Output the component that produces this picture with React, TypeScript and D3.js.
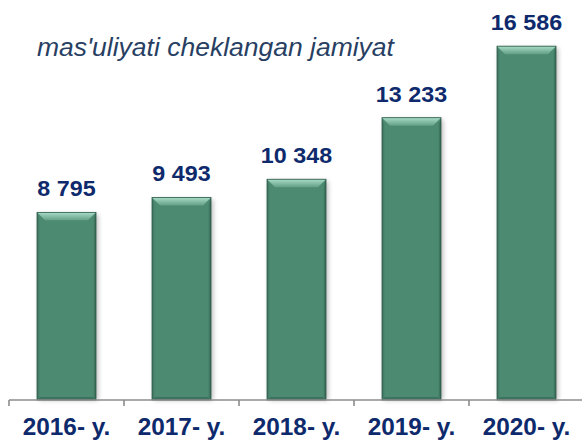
import React from "react";
import * as d3 from "d3";

const years = ["2016- y.", "2017- y.", "2018- y.", "2019- y.", "2020- y."];
const values = [8795, 9493, 10348, 13233, 16586];
const title = "mas'uliyati cheklangan jamiyat";

const W = 582;
const H = 441;
const margin = { left: 9, right: -2, top: 16, bottom: 41 };
const font = "'Liberation Sans', Arial, sans-serif";
const sx = 1.06; // the source text is a little wider than Arial

const fmt = (v: number) => d3.format(",")(v).replace(/,/g, " ");

// text stretched horizontally around its anchor point
const Label = ({ x, y, size, anchor = "middle", italic = false, bold = true, fill, children }: any) => (
  <g transform={`translate(${x},${y}) scale(${sx},1)`}>
    <text
      textAnchor={anchor}
      fontFamily={font}
      fontWeight={bold ? "bold" : "normal"}
      fontStyle={italic ? "italic" : "normal"}
      fontSize={size}
      fill={fill}
    >
      {children}
    </text>
  </g>
);

const App = () => {
  const x = d3
    .scaleBand<string>()
    .domain(years)
    .range([margin.left, W - margin.right])
    .paddingInner(0.487)
    .paddingOuter(0.2435);

  const y = d3
    .scaleLinear()
    .domain([0, 18000])
    .range([H - margin.bottom, margin.top]);

  const base = y(0);
  const step = x.step();
  const tickXs = d3.range(years.length + 1).map((i) => margin.left + i * step);

  const tb = 8; // top bevel
  const sb = 3; // side bevel

  return (
    <svg
      width={W}
      height={H}
      style={{ position: "absolute", left: 0, top: 0, background: "#fff" }}
    >
      <defs>
        <linearGradient id="topBevel" x1="0" y1="0" x2="0" y2="1">
          <stop offset="0%" stopColor="#a9dcc6" />
          <stop offset="100%" stopColor="#639f87" />
        </linearGradient>
        <linearGradient id="leftBevel" x1="0" y1="0" x2="1" y2="0">
          <stop offset="0%" stopColor="#3a6f5b" />
          <stop offset="100%" stopColor="#4d8a72" />
        </linearGradient>
        <linearGradient id="rightBevel" x1="1" y1="0" x2="0" y2="0">
          <stop offset="0%" stopColor="#33644f" />
          <stop offset="100%" stopColor="#4d8a72" />
        </linearGradient>
        <filter id="shadow" x="-20%" y="-10%" width="140%" height="120%">
          <feGaussianBlur stdDeviation="2.5" />
        </filter>
      </defs>

      <Label x={37} y={56} size={25} anchor="start" italic bold={false} fill="#283f63">
        {title}
      </Label>

      {years.map((yr, i) => {
        const x0 = x(yr) as number;
        const x1 = x0 + x.bandwidth();
        const y0 = y(values[i]);
        const y1 = base;
        const cx = x0 + x.bandwidth() / 2;
        return (
          <g key={yr}>
            <rect
              x={x0 + 2}
              y={y0 + 2}
              width={x.bandwidth()}
              height={y1 - y0 - 2}
              fill="#000"
              opacity={0.28}
              filter="url(#shadow)"
            />
            <rect x={x0} y={y0} width={x.bandwidth()} height={y1 - y0} fill="#4d8a72" />
            <polygon
              points={`${x0},${y0} ${x0 + sb},${y0 + tb} ${x0 + sb},${y1 - sb} ${x0},${y1}`}
              fill="url(#leftBevel)"
            />
            <polygon
              points={`${x1},${y0} ${x1 - sb},${y0 + tb} ${x1 - sb},${y1 - sb} ${x1},${y1}`}
              fill="url(#rightBevel)"
            />
            <polygon
              points={`${x0},${y1} ${x0 + sb},${y1 - sb} ${x1 - sb},${y1 - sb} ${x1},${y1}`}
              fill="#3d735e"
            />
            <polygon
              points={`${x0},${y0} ${x1},${y0} ${x1 - tb},${y0 + tb} ${x0 + tb},${y0 + tb}`}
              fill="url(#topBevel)"
            />
            <rect
              x={x0}
              y={y0}
              width={x.bandwidth()}
              height={y1 - y0}
              fill="none"
              stroke="#2f5c4b"
              strokeWidth={0.8}
            />
            <Label x={cx} y={y0 - 16} size={22} fill="#0e2a6c">
              {fmt(values[i])}
            </Label>
            <Label x={cx} y={435} size={23} fill="#0e2a6c">
              {yr}
            </Label>
          </g>
        );
      })}

      <line x1={margin.left} x2={W} y1={base} y2={base} stroke="#8c8c8c" strokeWidth={1.6} />
      {tickXs.map((tx, i) => (
        <line key={i} x1={tx} x2={tx} y1={base} y2={base + 6} stroke="#8c8c8c" strokeWidth={1.6} />
      ))}
    </svg>
  );
};

export default App;
